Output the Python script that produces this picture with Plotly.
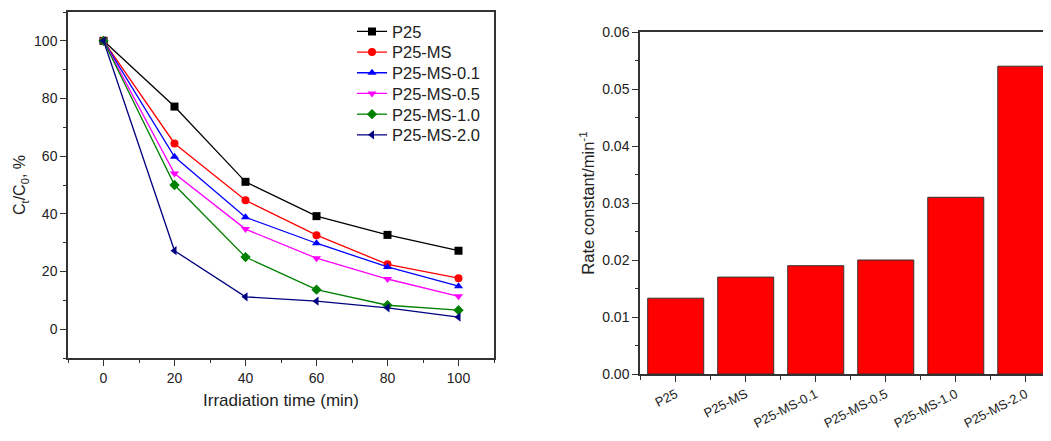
import plotly.graph_objects as go

# ---- data ----
time_min = [0, 20, 40, 60, 80, 100]
p25 = [100, 77.2, 51.1, 39.2, 32.7, 27.2]
p25_ms = [100, 64.4, 44.7, 32.6, 22.5, 17.7]
p25_ms_01 = [100, 59.8, 38.8, 29.8, 21.6, 14.9]
p25_ms_05 = [100, 54.0, 34.7, 24.6, 17.4, 11.4]
p25_ms_10 = [100, 50.0, 25.0, 13.7, 8.3, 6.6]
p25_ms_20 = [100, 27.2, 11.2, 9.7, 7.4, 4.2]

series_names = ["P25", "P25-MS", "P25-MS-0.1", "P25-MS-0.5", "P25-MS-1.0", "P25-MS-2.0"]
series_values = [p25, p25_ms, p25_ms_01, p25_ms_05, p25_ms_10, p25_ms_20]
series_colors = ["#000000", "#FF0000", "#0000FF", "#FF00FF", "#008000", "#000080"]
series_symbols = ["square", "circle", "triangle-up", "triangle-down", "diamond", "triangle-left"]

bar_categories = ["P25", "P25-MS", "P25-MS-0.1", "P25-MS-0.5", "P25-MS-1.0", "P25-MS-2.0"]
rate_constants = [0.0133, 0.0170, 0.0190, 0.0200, 0.0310, 0.0540]

FONT = "Liberation Sans, Arial, sans-serif"

# page body has an 8px margin, so the figure is offset by 8px
OFF = 8
W, H = 1051 - OFF, 441 - OFF


def px_x(v):
    return (v - OFF) / W


def px_y(v):
    return 1 - (v - OFF) / H


fig = go.Figure()

legend_ids = ["legend"] + [f"legend{i}" for i in range(2, len(series_names) + 1)]
for name, vals, col, sym, lg in zip(series_names, series_values, series_colors, series_symbols, legend_ids):
    fig.add_trace(go.Scatter(
        x=time_min, y=vals, name=name, mode="lines+markers",
        line=dict(color=col, width=1.3),
        marker=dict(symbol=sym, size=8, color=col),
        xaxis="x", yaxis="y", legend=lg,
    ))

bar_x = list(range(len(bar_categories)))
fig.add_trace(go.Bar(
    x=bar_x, y=rate_constants, width=0.8,
    marker=dict(color="#FF0000", line=dict(color="#333333", width=1)),
    showlegend=False, xaxis="x2", yaxis="y2",
))

axis_common = dict(
    showgrid=False, zeroline=False, showline=True, linecolor="#333333", linewidth=1.5,
    ticks="outside", ticklen=6, tickwidth=1.2, tickcolor="#333333",
    tickfont=dict(family=FONT, size=14, color="#222222"),
    automargin=False,
)

layout_kwargs = dict(
    width=W, height=H,
    margin=dict(l=0, r=0, t=0, b=0, autoexpand=False),
    paper_bgcolor="white", plot_bgcolor="white",
    font=dict(family=FONT, color="#222222"),
    xaxis=dict(
        domain=[px_x(68), px_x(494)], range=[-10, 110], dtick=20, mirror=True,
        minor=dict(dtick=10, ticks="outside", ticklen=3, tickcolor="#333333"),
        title=dict(text="Irradiation time (min)", font=dict(family=FONT, size=17), standoff=10),
        anchor="y", **axis_common,
    ),
    yaxis=dict(
        domain=[px_y(358), px_y(12)], range=[-10, 110], dtick=20, mirror=True,
        minor=dict(dtick=10, ticks="outside", ticklen=3, tickcolor="#333333"),
        title=dict(text="C<sub>t</sub>/C<sub>0</sub>, %", font=dict(family=FONT, size=16), standoff=4),
        anchor="x", **axis_common,
    ),
    xaxis2=dict(
        domain=[px_x(640), 1.0], range=[-0.51, 5.36], mirror=True,
        tickmode="array", tickvals=bar_x, ticktext=bar_categories, tickangle=-27,
        minor=dict(tickmode="linear", tick0=0.5, dtick=1, ticks="outside", ticklen=4, tickcolor="#333333"),
        anchor="y2", **{**axis_common, "tickfont": dict(family=FONT, size=13, color="#222222")},
    ),
    yaxis2=dict(
        domain=[px_y(374), px_y(32)], range=[0, 0.06], dtick=0.01, tickformat=".2f",
        minor=dict(dtick=0.005, ticks="outside", ticklen=3, tickcolor="#333333"),
        title=dict(text="Rate constant/min<sup>-1</sup>", font=dict(family=FONT, size=16.5), standoff=3),
        anchor="x2", **axis_common,
    ),
)

# one legend per entry so the row spacing matches the reference
legend_rows_px = [31.7, 52.3, 73.0, 93.7, 114.4, 135.1]
for lg, row in zip(legend_ids, legend_rows_px):
    layout_kwargs[lg] = dict(
        x=px_x(352), y=px_y(row), xanchor="left", yanchor="middle",
        bgcolor="rgba(0,0,0,0)", borderwidth=0,
        font=dict(family=FONT, size=16.5, color="#222222"),
        itemwidth=30,
    )

fig.update_layout(**layout_kwargs)

fig.write_html("out.html")
